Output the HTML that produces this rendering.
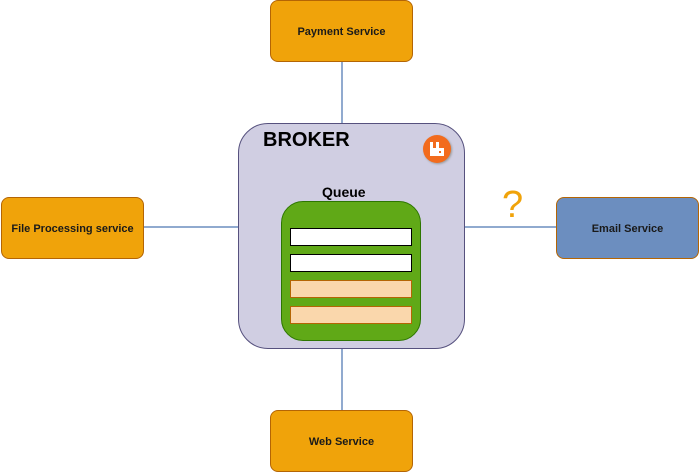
<!DOCTYPE html>
<html><head><style>
body{margin:0;width:700px;height:472px;background:#fff;position:relative;overflow:hidden;font-family:"Liberation Sans",sans-serif}
.b{position:absolute;box-sizing:border-box;border:1px solid #b46504;border-radius:8px;background:#f0a30a;display:flex;align-items:center;justify-content:center;font-size:11px;font-weight:bold;color:#1a1a1a;padding-top:2px}
.r{position:absolute;box-sizing:border-box;left:290px;width:122px;height:18px;border:1px solid #000;background:#fff}
.o{background:#fad7ac;border-color:#b46504}
</style></head><body>
<svg style="position:absolute;left:0;top:0" width="700" height="472">
<g stroke="#6c8ebf" stroke-width="1.5">
<line x1="342" y1="62" x2="342" y2="124"/>
<line x1="342" y1="349" x2="342" y2="410"/>
<line x1="144" y1="227" x2="238" y2="227"/>
<line x1="465" y1="227" x2="556" y2="227"/>
</g></svg>
<div style="position:absolute;left:238px;top:123px;width:227px;height:226px;box-sizing:border-box;border:1px solid #56517e;border-radius:30px;background:#d0cee2"></div>
<div style="position:absolute;left:263px;top:129px;font-size:20px;font-weight:bold">BROKER</div>
<div style="position:absolute;left:423px;top:135px;width:28px;height:28px;border-radius:50%;background:#f26b1d;box-shadow:1px 1px 2px #999"></div>
<svg style="position:absolute;left:429px;top:141px" width="16" height="16"><path d="M1 1h3v6h3v-6h3v6h5v8h-14z" fill="#fff"/><rect x="10" y="10" width="2" height="2" fill="#f26b1d"/></svg>
<div style="position:absolute;left:322px;top:184px;font-size:14px;font-weight:bold">Queue</div>
<div style="position:absolute;left:281px;top:201px;width:140px;height:140px;box-sizing:border-box;border:1px solid #2d7600;border-radius:22px;background:#60a917"></div>
<div class="r" style="top:228px"></div>
<div class="r" style="top:254px"></div>
<div class="r o" style="top:280px"></div>
<div class="r o" style="top:306px"></div>
<div class="b" style="left:270px;top:0;width:143px;height:62px">Payment Service</div>
<div class="b" style="left:1px;top:197px;width:143px;height:62px">File Processing service</div>
<div class="b" style="left:556px;top:197px;width:143px;height:62px;background:#6c8ebf">Email Service</div>
<div class="b" style="left:270px;top:410px;width:143px;height:62px">Web Service</div>
<div style="position:absolute;left:502px;top:184px;font-size:38px;color:#f0a30a">?</div>
</body></html>
